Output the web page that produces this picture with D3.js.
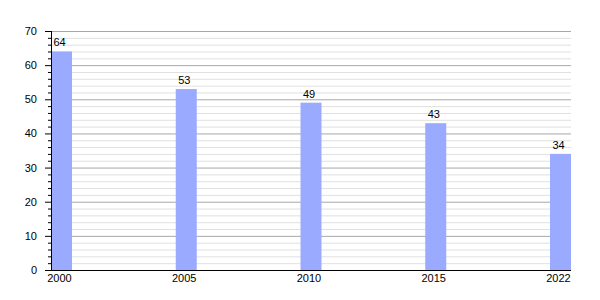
<!DOCTYPE html>
<html><head><meta charset="utf-8">
<script src="https://cdn.jsdelivr.net/npm/d3@7"></script>
<style>body{margin:0;background:#fff;} text{font-family:"Liberation Sans",Arial,sans-serif;font-size:11px;fill:#000;}</style>
</head><body>
<svg id="c" width="600" height="300"></svg>
<script>
const categories = ["2000","2005","2010","2015","2022"];
const values = [64,53,49,43,34];
const yTicks = [0,10,20,30,40,50,60,70];

(function(){
const svg = d3.select("#c");
const mLeft = 51, mRight = 571, mTop = 31, mBottom = 270, barW = 21;
const y = d3.scaleLinear().domain([0,70]).range([mBottom, mTop]);
const x = d3.scaleLinear().domain([0, categories.length-1]).range([mLeft, mRight - barW]);

const minor = d3.range(2, 70, 2).filter(v => v % 10 !== 0);
svg.append("g").selectAll("line").data(minor).join("line")
  .attr("x1", mLeft).attr("x2", mRight).attr("y1", d=>y(d)+0.5).attr("y2", d=>y(d)+0.5)
  .attr("stroke", "#e0e0e0").attr("stroke-width",1);
svg.append("g").selectAll("line").data(yTicks.filter(d=>d>0)).join("line")
  .attr("x1", mLeft).attr("x2", mRight).attr("y1", d=>y(d)+0.5).attr("y2", d=>y(d)+0.5)
  .attr("stroke", "#a8a8a8").attr("stroke-width",1);

svg.append("g").selectAll("rect").data(values).join("rect")
  .attr("x", (d,i)=>x(i)).attr("width", barW)
  .attr("y", d=>y(d)).attr("height", d=>mBottom - y(d))
  .attr("fill", "#99aaff");

svg.append("g").selectAll("text").data(values).join("text")
  .attr("x", (d,i)=>x(i)+barW/2-2).attr("y", d=>y(d)-5)
  .attr("text-anchor","middle").text(d=>d);

svg.append("g").selectAll("line").data(minor).join("line")
  .attr("x1", mLeft-3).attr("x2", mLeft).attr("y1", d=>y(d)+0.5).attr("y2", d=>y(d)+0.5)
  .attr("stroke","#000");
svg.append("g").selectAll("line").data(yTicks).join("line")
  .attr("x1", mLeft-6).attr("x2", mLeft).attr("y1", d=>y(d)+0.5).attr("y2", d=>y(d)+0.5)
  .attr("stroke","#000");
svg.append("g").selectAll("text").data(yTicks).join("text")
  .attr("x", 37).attr("y", d=>y(d)+4).attr("text-anchor","end").text(d=>d);
svg.append("line").attr("x1", mLeft+0.5).attr("x2", mLeft+0.5).attr("y1", mTop).attr("y2", mBottom)
  .attr("stroke","#000");
svg.append("line").attr("x1", mLeft-6).attr("x2", mRight).attr("y1", mBottom+0.5).attr("y2", mBottom+0.5)
  .attr("stroke","#000");

svg.append("g").selectAll("text").data(categories).join("text")
  .attr("x", (d,i)=>x(i)+barW/2-2).attr("y", 282).attr("text-anchor","middle").text(d=>d);
})();
</script>
</body></html>
